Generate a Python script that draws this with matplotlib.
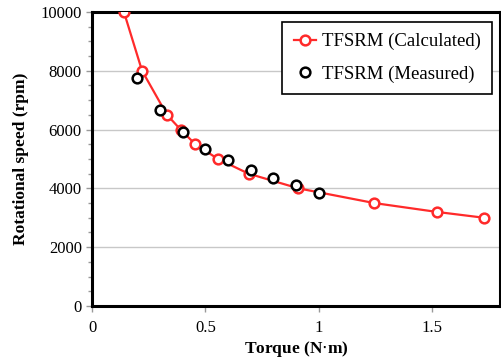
import matplotlib
matplotlib.use('Agg')
import matplotlib.pyplot as plt
from matplotlib.ticker import MultipleLocator

plt.rcParams['font.family'] = 'serif'
plt.rcParams['font.serif'] = ['Liberation Serif', 'DejaVu Serif']

# calculated curve
calc_torque = [0.14, 0.22, 0.33, 0.39, 0.455, 0.555, 0.69, 0.91, 1.245, 1.52, 1.73]
calc_speed = [10000, 8000, 6500, 6000, 5500, 5000, 4500, 4000, 3500, 3200, 3000]

# measured points
meas_torque = [0.2, 0.3, 0.4, 0.5, 0.6, 0.7, 0.8, 0.9, 1.0]
meas_speed = [7750, 6680, 5900, 5340, 4950, 4620, 4350, 4110, 3830]

fig = plt.figure(figsize=(5.01, 3.6), dpi=100)
ax = fig.add_axes([0.184, 0.15, 0.814, 0.817])

ax.plot(calc_torque, calc_speed, color='#ff2a2a', lw=1.6, marker='o', ms=7,
        mfc='white', mec='#ff2a2a', mew=1.8, label='TFSRM (Calculated)', zorder=3)
ax.plot(meas_torque, meas_speed, ls='none', marker='o', ms=7,
        mfc='white', mec='black', mew=1.8, label='TFSRM (Measured)', zorder=4)

ax.set_xlim(0, 1.8)
ax.set_ylim(0, 10000)
ax.set_xticks([0, 0.5, 1, 1.5])
ax.set_xticklabels(['0', '0.5', '1', '1.5'])
ax.yaxis.set_major_locator(MultipleLocator(2000))
ax.yaxis.set_minor_locator(MultipleLocator(500))
ax.grid(axis='y', which='major', color='#c8c8c8', lw=1)
ax.set_axisbelow(True)

for s in ax.spines.values():
    s.set_linewidth(2.2)
    s.set_color('black')

ax.tick_params(axis='both', which='major', labelsize=12, length=4, color='#999999', width=1)
ax.tick_params(axis='y', which='minor', length=3, color='#999999', width=1)
ax.tick_params(axis='x', pad=6)

ax.set_xlabel('Torque (N$\\cdot$m)', fontsize=12.5, fontweight='bold', labelpad=2)
ax.set_ylabel('Rotational speed (rpm)', fontsize=12.5, fontweight='bold', labelpad=8)

leg = ax.legend(loc='upper right', bbox_to_anchor=(0.98, 0.966), borderaxespad=0,
                fontsize=13.5, fancybox=False, framealpha=1, edgecolor='black',
                handlelength=1.2, handletextpad=0.3, borderpad=0.6, labelspacing=0.8)
leg.get_frame().set_linewidth(1.2)

fig.savefig('out.png', dpi=100)
